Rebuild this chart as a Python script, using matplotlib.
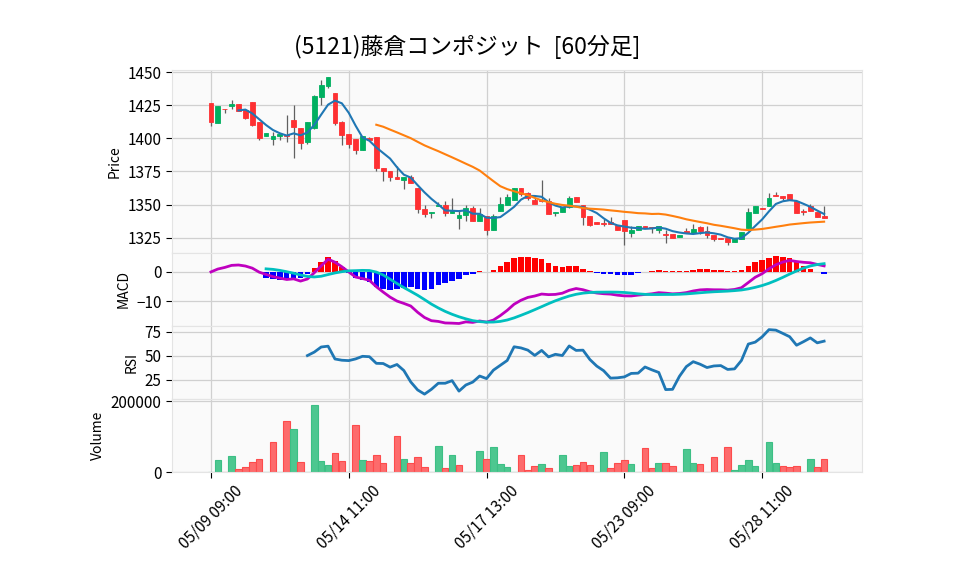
import numpy as np
import pandas as pd
import matplotlib
matplotlib.use("Agg")
import matplotlib.pyplot as plt

plt.rcParams['font.family'] = ['Noto Sans CJK JP', 'DejaVu Sans']

TITLE = "(5121)藤倉コンポジット  [60分足]"
days = ["05/09", "05/10", "05/13", "05/14", "05/15", "05/16", "05/17", "05/20",
        "05/21", "05/22", "05/23", "05/24", "05/27", "05/28", "05/29"]
hours = ["09:00", "10:00", "11:00", "12:00", "13:00", "14:00"]
labels = [f"{d} {h}" for d in days for h in hours]

opens = [1427.0, 1411.9, 1422.5, 1424.8, 1425.8, 1421.2, 1427.3, 1412.1, 1402.0, 1399.7,
         1401.8, 1402.5, 1413.6, 1408.1, 1397.2, 1408.1, 1431.3, 1439.9, 1434.6, 1412.1,
         1403.0, 1399.2, 1390.9, 1400.3, 1400.8, 1378.0, 1375.0, 1371.2, 1368.9, 1371.2,
         1362.9, 1346.4, 1343.5, 1348.7, 1350.0, 1343.5, 1340.2, 1342.4, 1347.7, 1337.4,
         1341.4, 1330.6, 1345.5, 1349.5, 1353.3, 1362.9, 1358.8, 1353.5, 1353.8, 1352.8,
         1343.4, 1344.2, 1348.5, 1356.1, 1349.7, 1341.4, 1337.1, 1335.9, 1337.1, 1334.6,
         1338.6, 1328.5, 1330.8, 1333.8, 1333.3, 1331.1, 1328.0, 1327.5, 1325.3, 1330.3,
         1328.5, 1333.1, 1330.1, 1327.0, 1324.5, 1324.5, 1321.5, 1324.0, 1332.1, 1343.4,
         1347.7, 1349.0, 1357.5, 1356.8, 1358.3, 1352.8, 1345.0, 1348.7, 1344.7, 1341.7]
highs = [1427.0, 1424.7, 1422.5, 1428.8, 1425.8, 1421.2, 1427.3, 1412.1, 1403.8, 1405.1,
         1403.0, 1417.9, 1425.0, 1408.1, 1412.6, 1433.1, 1444.4, 1446.2, 1434.6, 1412.9,
         1403.0, 1399.2, 1402.0, 1401.0, 1400.8, 1378.0, 1375.0, 1379.3, 1371.0, 1372.5,
         1362.9, 1349.7, 1344.8, 1351.8, 1352.8, 1355.3, 1345.0, 1349.7, 1349.0, 1347.7,
         1341.4, 1342.8, 1356.1, 1358.1, 1362.9, 1362.9, 1359.5, 1355.3, 1368.7, 1354.8,
         1344.7, 1348.0, 1356.3, 1356.1, 1349.7, 1341.4, 1337.1, 1338.9, 1340.4, 1334.6,
         1338.6, 1333.8, 1333.8, 1333.8, 1333.3, 1333.8, 1330.8, 1327.5, 1327.3, 1332.3,
         1335.6, 1334.0, 1334.1, 1327.0, 1324.5, 1324.5, 1324.7, 1329.0, 1347.5, 1349.2,
         1347.7, 1359.1, 1359.3, 1356.8, 1358.3, 1352.8, 1346.8, 1350.5, 1344.7, 1349.2]
lows = [1409.4, 1411.9, 1419.4, 1422.0, 1420.7, 1414.6, 1409.4, 1399.0, 1402.0, 1394.7,
        1399.0, 1397.0, 1385.4, 1392.2, 1396.0, 1407.0, 1425.5, 1438.4, 1409.8, 1394.7,
        1392.9, 1388.4, 1390.9, 1398.5, 1375.0, 1367.7, 1368.2, 1369.2, 1361.9, 1366.2,
        1344.0, 1340.4, 1340.0, 1348.7, 1341.7, 1343.5, 1331.6, 1337.9, 1337.4, 1337.4,
        1327.3, 1330.6, 1345.5, 1349.5, 1353.3, 1356.6, 1353.8, 1350.5, 1351.8, 1342.9,
        1341.4, 1344.2, 1347.5, 1352.3, 1334.8, 1333.8, 1335.4, 1334.0, 1335.2, 1330.8,
        1319.7, 1325.5, 1330.8, 1332.1, 1328.5, 1328.8, 1320.7, 1324.5, 1325.3, 1328.8,
        1328.5, 1328.0, 1324.5, 1322.7, 1323.8, 1319.7, 1321.5, 1324.0, 1332.1, 1343.4,
        1346.5, 1349.0, 1356.8, 1353.8, 1353.3, 1343.7, 1342.2, 1345.5, 1340.4, 1340.2]
closes = [1412.4, 1424.7, 1422.0, 1425.8, 1420.7, 1415.4, 1410.1, 1400.3, 1403.8, 1402.0,
          1403.0, 1401.5, 1408.6, 1396.5, 1412.6, 1431.8, 1440.2, 1446.2, 1411.6, 1402.5,
          1396.0, 1391.4, 1402.0, 1399.0, 1377.3, 1375.0, 1370.5, 1369.2, 1371.0, 1366.2,
          1346.5, 1343.2, 1344.8, 1350.0, 1343.5, 1345.3, 1342.0, 1347.7, 1337.4, 1342.9,
          1330.6, 1341.2, 1350.8, 1356.1, 1362.9, 1357.8, 1355.3, 1350.5, 1353.0, 1342.9,
          1344.7, 1348.0, 1355.3, 1352.3, 1340.4, 1334.8, 1335.4, 1335.5, 1335.2, 1330.8,
          1330.3, 1331.1, 1333.8, 1332.6, 1332.2, 1333.8, 1326.8, 1324.5, 1327.3, 1328.8,
          1331.8, 1330.1, 1327.0, 1324.0, 1323.8, 1321.7, 1324.7, 1329.0, 1344.7, 1349.2,
          1346.5, 1355.3, 1356.8, 1354.8, 1353.3, 1343.7, 1344.5, 1345.5, 1340.6, 1340.2]
volumes = [0, 33300, 0, 44700, 7600, 13300, 27600, 36200, 0, 84700,
           0, 144700, 121900, 29500, 0, 190400, 30500, 19000, 55200, 32400,
           0, 132300, 33300, 32400, 49500, 26700, 0, 100900, 38100, 26700,
           43800, 15200, 0, 75200, 10500, 49500, 20900, 0, 0, 59000,
           36200, 70400, 21900, 13300, 0, 47600, 6700, 16200, 21900, 10500,
           0, 47600, 16200, 19000, 27600, 19000, 0, 56200, 10500, 24800,
           33300, 21900, 0, 67600, 10500, 24800, 24800, 16200, 0, 64700,
           24800, 21900, 0, 41900, 0, 70400, 4800, 19000, 33300, 16200,
           0, 84700, 24800, 16200, 13300, 16200, 0, 36200, 13300, 36200]

df = pd.DataFrame({"open": opens, "high": highs, "low": lows, "close": closes, "volume": volumes})
x = np.arange(len(df))
c = df["close"]

# indicators from the closes
ma5 = c.rolling(5).mean()
ma25 = c.rolling(25).mean()
macd = c.ewm(span=12, adjust=False).mean() - c.ewm(span=26, adjust=False).mean()
signal = macd.rolling(9).mean()
hist = macd - signal
delta = c.diff()
gain = delta.clip(lower=0).rolling(14).mean()
loss = (-delta.clip(upper=0)).rolling(14).mean()
rsi = 100 - 100 / (1 + gain / loss)

UP, DOWN = "#00b060", "#fe3032"
VUP, VDOWN = "#4dc790", "#fd6b6c"
GRID = "#d0d0d0"

fig = plt.figure(figsize=(9.58, 5.75), dpi=100)
gs = fig.add_gridspec(4, 1, height_ratios=[5, 2, 2, 2], hspace=0,
                      left=0.1795, right=0.8998, top=0.878, bottom=0.179)
ax1 = fig.add_subplot(gs[0])
ax2 = fig.add_subplot(gs[1], sharex=ax1)
ax3 = fig.add_subplot(gs[2], sharex=ax1)
ax4 = fig.add_subplot(gs[3], sharex=ax1)

for ax in (ax1, ax2, ax3, ax4):
    ax.set_facecolor("#fafafa")
    ax.grid(True, color=GRID, lw=0.9)
    ax.set_axisbelow(True)
    for s in ax.spines.values():
        s.set_color("#e4e4e4")
    ax.tick_params(axis="y", length=4, labelsize=11)
    ax.tick_params(axis="x", length=4)

# candles
up = df["close"] >= df["open"]
ccol = np.where(up, UP, DOWN)
ax1.vlines(x, df["low"], df["high"], color="#606060", lw=0.9, zorder=2)
body_lo = np.minimum(df["open"], df["close"])
body_h = (df["open"] - df["close"]).abs()
ax1.bar(x, body_h, bottom=body_lo, width=0.7, color=ccol, edgecolor=ccol, lw=0.6, zorder=3)
ax1.plot(x, ma5, color="#1f77b4", lw=1.5, zorder=4)
ax1.plot(x, ma25, color="#ff7f0e", lw=1.5, zorder=4)
ax1.set_ylim(1313.6, 1451.5)
ax1.set_yticks([1325, 1350, 1375, 1400, 1425, 1450])
ax1.set_ylabel("Price", fontsize=10)

# MACD
hcol = np.where(hist >= 0, "red", "blue")
ax2.bar(x, hist, width=0.8, color=hcol, zorder=2)
ax2.plot(x, macd, color="m", lw=2, zorder=3)
ax2.plot(x, signal, color="c", lw=2, zorder=3)
ax2.set_ylim(-18.4, 6.5)
ax2.set_yticks([-10, 0])
ax2.set_ylabel("MACD", fontsize=10)

# RSI
ax3.plot(x, rsi, color="#1f77b4", lw=2)
ax3.set_ylim(4.6, 81.2)
ax3.set_yticks([25, 50, 75])
ax3.set_ylabel("RSI", fontsize=10)

# volume
vup = c.diff().fillna(0) >= 0
vface = np.where(vup, VUP, VDOWN)
vedge = np.where(vup, "#3cbf85", "#fd4b4c")
ax4.bar(x, df["volume"], width=0.95, color=vface, edgecolor=vedge, lw=0.8)
ax4.set_ylim(0, 207000)
ax4.set_yticks([0, 200000])
ax4.set_yticklabels(["0", "200000"])
ax4.set_ylabel("Volume", fontsize=10)

ticks = x[::20]
ax4.set_xticks(ticks)
ax4.set_xticklabels([labels[i] for i in ticks], rotation=45, fontsize=11)
ax4.set_xlim(-5.66, 94.5)
for ax in (ax1, ax2, ax3):
    ax.tick_params(axis="x", labelbottom=False, length=0)

fig.suptitle(TITLE, fontsize=16.5, x=0.4875, y=0.94)
fig.savefig("out.png", dpi=100)
